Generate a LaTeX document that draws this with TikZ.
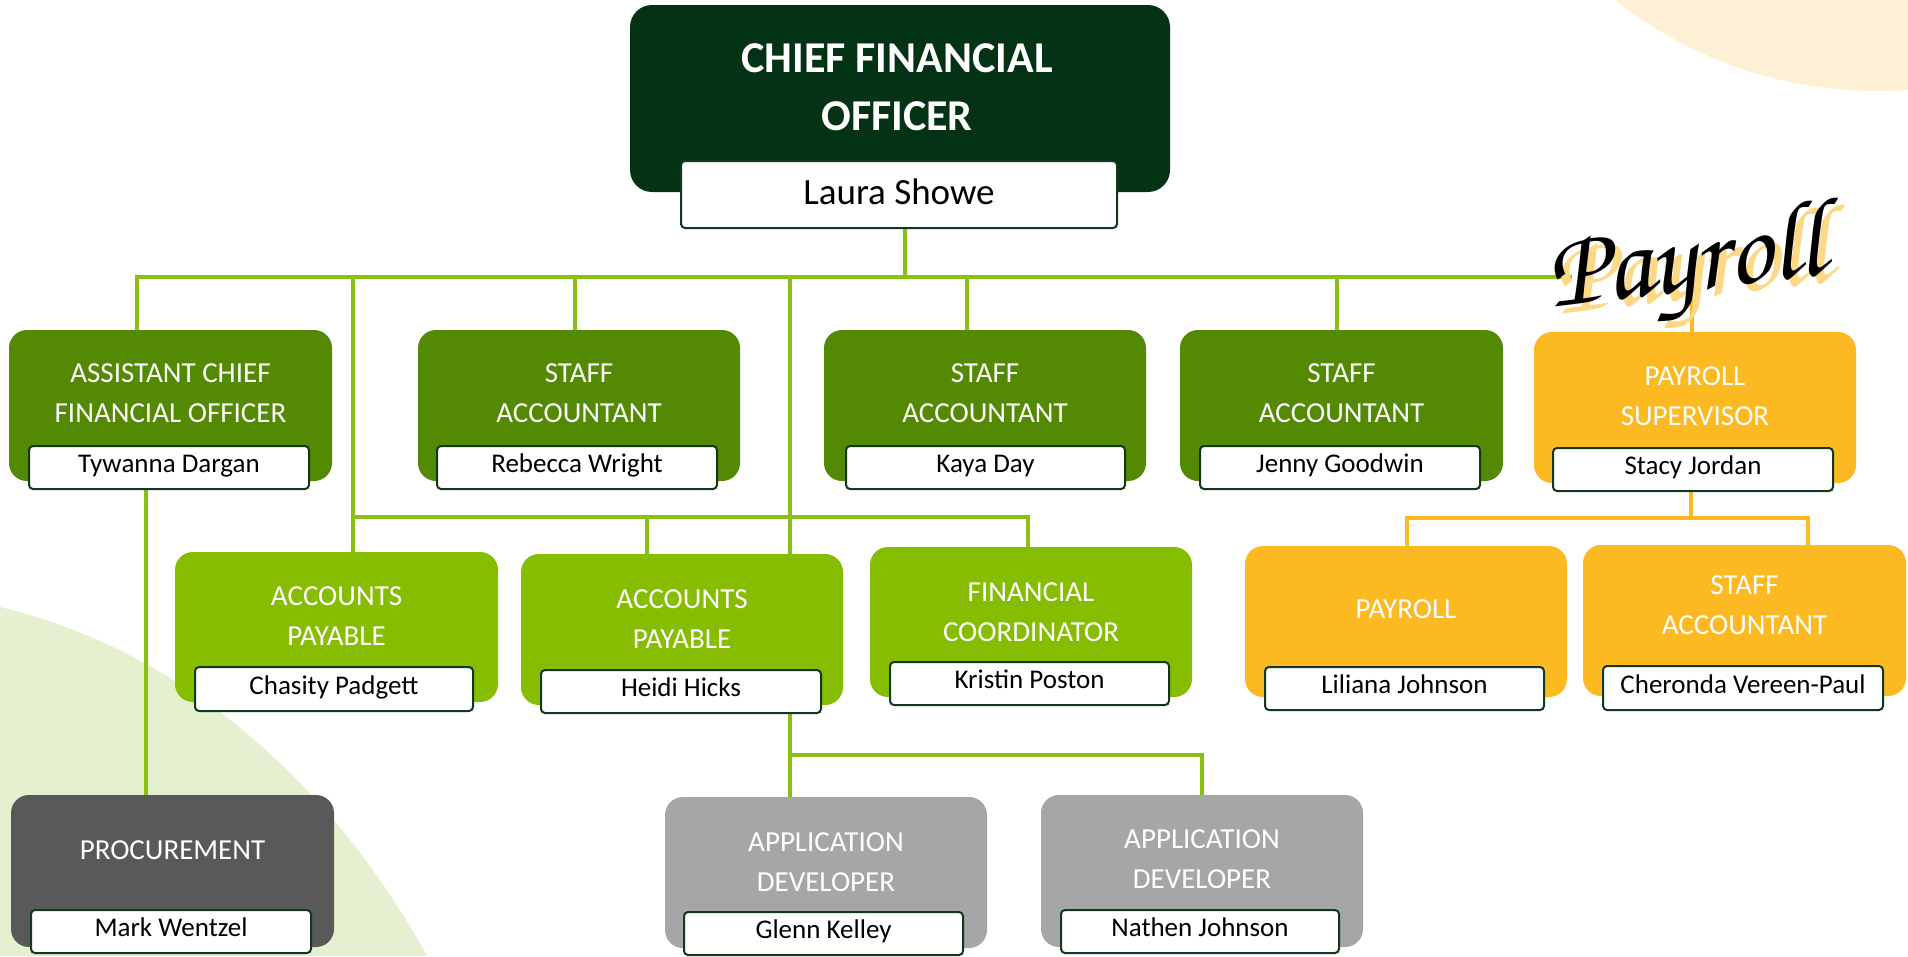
\documentclass[tikz,border=0pt]{standalone}
\usepackage[T1]{fontenc}
\usepackage{fontspec}
\setmainfont{Carlito}
\usetikzlibrary{calc}
\definecolor{cfo}{RGB}{4,50,20}
\definecolor{dkg}{RGB}{83,137,3}
\definecolor{ltg}{RGB}{135,189,0}
\definecolor{org}{RGB}{253,185,33}
\definecolor{dgray}{RGB}{89,89,89}
\definecolor{lgray}{RGB}{166,166,166}
\definecolor{conng}{RGB}{138,192,20}
\definecolor{nameb}{RGB}{16,56,26}
\definecolor{peach}{RGB}{254,240,212}
\definecolor{paleg}{RGB}{229,240,208}
\definecolor{shad}{RGB}{253,216,135}
\pgfdeclarelayer{back}
\pgfdeclarelayer{bg}
\pgfsetlayers{back,bg,main}
\tikzset{
  orgbox/.style={rounded corners=18pt, inner sep=0pt, draw=none},
  ttl/.style={text=white, font=\fontsize{29}{40}\selectfont, align=center, inner sep=0pt},
  namebox/.style={draw=nameb, line width=2pt, fill=white, rounded corners=4pt, inner sep=0pt,
    font=\fontsize{27}{30}\selectfont, text=black, text height=18pt, text depth=7.6pt},
  conn/.style={draw=conng, line width=3.5pt, line cap=rect},
  oconn/.style={draw=org, line width=3.5pt, line cap=rect},
}
\newcommand\obox[6]{\node[orgbox, fill=#6, minimum width=\fpeval{#4-#2}pt, minimum height=\fpeval{#5-#3}pt] (#1) at ({(#2+#4)/2},{(#3+#5)/2}) {};}
\newcommand\oname[6]{\node[namebox, minimum width=\fpeval{#4-#2}pt, minimum height=\fpeval{#5-#3}pt] (#1) at ({(#2+#4)/2},{(#3+#5)/2}) {#6};}
\newcommand\payfont{\fontencoding{T1}\fontfamily{pzc}\fontseries{mb}\fontshape{it}\fontsize{110}{110}\selectfont}
\begin{document}
\begin{tikzpicture}[x=1pt,y=-1pt]
\useasboundingbox (0,0) rectangle (1908,956);
\begin{pgfonlayer}{back}
\fill[white] (0,0) rectangle (1908,956);
\begin{scope}
\clip (0,0) rectangle (1908,956);
\fill[peach] (1877,-331.7) circle (422.7);
\fill[paleg] (0,607) .. controls (180,650) and (330,780) .. (427,956) -- (0,956) -- cycle;
\end{scope}
\end{pgfonlayer}

% ---- boxes ----
\node[orgbox, fill=cfo, rounded corners=22pt, minimum width=540pt, minimum height=187pt] (cfo) at (900,98.5) {};
\node[text=white, font=\bfseries\fontsize{44}{58}\selectfont, align=center, inner sep=0pt] (cfot) at (897,87) {CHIEF FINANCIAL\\OFFICER};
\node[namebox, font=\fontsize{37}{40}\selectfont, text height=26pt, text depth=6.2pt, minimum width=436pt, minimum height=67pt] (cfon) at (899,194.5) {Laura Showe};

\obox{asst}{9}{330}{332}{481}{dkg}
\node[ttl] (asstt) at (170.5,393) {ASSISTANT CHIEF\\FINANCIAL OFFICER};
\oname{asstn}{29}{446}{309}{489}{Tywanna Dargan}

\obox{sa1}{418}{330}{740}{481}{dkg}
\node[ttl] (sa1t) at (579,393) {STAFF\\ACCOUNTANT};
\oname{sa1n}{437}{446}{717}{489}{Rebecca Wright}

\obox{sa2}{824}{330}{1146}{481}{dkg}
\node[ttl] (sa2t) at (985,393) {STAFF\\ACCOUNTANT};
\oname{sa2n}{846}{446}{1125}{489}{Kaya Day}

\obox{sa3}{1180}{330}{1503}{481}{dkg}
\node[ttl] (sa3t) at (1341.5,393) {STAFF\\ACCOUNTANT};
\oname{sa3n}{1200}{446}{1480}{489}{Jenny Goodwin}

\obox{psup}{1534}{332}{1856}{483}{org}
\node[ttl] (psupt) at (1695,396) {PAYROLL\\SUPERVISOR};
\oname{psupn}{1553}{448}{1833}{491}{Stacy Jordan}

\obox{ap1}{175}{552}{498}{702}{ltg}
\node[ttl] (ap1t) at (336.5,616) {ACCOUNTS\\PAYABLE};
\oname{ap1n}{195}{667}{473}{711}{Chasity Padgett}

\obox{ap2}{521}{554}{843}{705}{ltg}
\node[ttl] (ap2t) at (682,619) {ACCOUNTS\\PAYABLE};
\oname{ap2n}{541}{670}{821}{713}{Heidi Hicks}

\obox{fc}{870}{547}{1192}{697}{ltg}
\node[ttl] (fct) at (1031,612) {FINANCIAL\\COORDINATOR};
\oname{fcn}{890}{662}{1169}{705}{Kristin Poston}

\obox{pay}{1245}{546}{1567}{697}{org}
\node[ttl] (payt) at (1406,609) {PAYROLL};
\oname{payn}{1265}{667}{1544}{710}{Liliana Johnson}

\obox{sa4}{1583}{545}{1906}{696}{org}
\node[ttl] (sa4t) at (1744.5,605) {STAFF\\ACCOUNTANT};
\oname{sa4n}{1603}{666}{1883}{710}{Cheronda Vereen-Paul}

\obox{proc}{11}{795}{334}{947}{dgray}
\node[ttl] (proct) at (172.5,850) {PROCUREMENT};
\oname{procn}{31}{910}{311}{953}{Mark Wentzel}

\obox{ad1}{665}{797}{987}{948}{lgray}
\node[ttl] (ad1t) at (826,862) {APPLICATION\\DEVELOPER};
\oname{ad1n}{684}{912}{963}{955}{Glenn Kelley}

\obox{ad2}{1041}{795}{1363}{947}{lgray}
\node[ttl] (ad2t) at (1202,859) {APPLICATION\\DEVELOPER};
\oname{ad2n}{1061}{910}{1339}{953}{Nathen Johnson}

% ---- connectors ----
\coordinate (bL) at (137,277);
\coordinate (bR) at (1570,277);
\coordinate (bC) at (905,277);
\coordinate (bS1) at (575,277);
\coordinate (bS2) at (967,277);
\coordinate (bS3) at (1337,277);
\coordinate (bP1) at (353,277);
\coordinate (bP2) at (790,277);
\coordinate (m1) at (353,517);
\coordinate (m2) at (1028,517);
\coordinate (m3) at (647,517);
\coordinate (pa) at (146,600);
\coordinate (d0) at (790,755);
\coordinate (d1) at (1202,755);
\coordinate (o0) at (1691,518);
\coordinate (o1) at (1407,518);
\coordinate (o2) at (1808,518);
\coordinate (os) at (1692,300);
\begin{pgfonlayer}{bg}
\draw[conn] (bL) -- (bR);
\draw[conn] (cfon.south -| bC) -- (bC);
\draw[conn] (bL) -- (bL |- asst.north);
\draw[conn] (bS1) -- (bS1 |- sa1.north);
\draw[conn] (bS2) -- (bS2 |- sa2.north);
\draw[conn] (bS3) -- (bS3 |- sa3.north);
\draw[conn] (bP1) -- (bP1 |- ap1.north);
\draw[conn] (bP2) -- (bP2 |- ap2.north);
\draw[conn] (m1) -- (m2);
\draw[conn] (m2) -- (m2 |- fc.north);
\draw[conn] (m3) -- (m3 |- ap2.north);
\draw[conn] (asstn.south -| pa) -- (pa |- proc.north);
\draw[conn] (ap2n.south -| d0) -- (d0) -- (d0 |- ad1.north);
\draw[conn] (d0) -- (d1) -- (d1 |- ad2.north);
\draw[oconn] (psupn.south -| o0) -- (o0);
\draw[oconn] (o1) -- (o2);
\draw[oconn] (o1) -- (o1 |- pay.north);
\draw[oconn] (o2) -- (o2 |- sa4.north);
\draw[oconn] (os) -- (os |- psup.north);
\end{pgfonlayer}

% ---- script label ----
\node[text=shad, font=\payfont, rotate=7, inner sep=0pt] (payS) at (1693,276) {Payroll};
\node[text=black, font=\payfont, rotate=7, inner sep=0pt] (payL) at (1686,269) {Payroll};
\end{tikzpicture}
\end{document}
